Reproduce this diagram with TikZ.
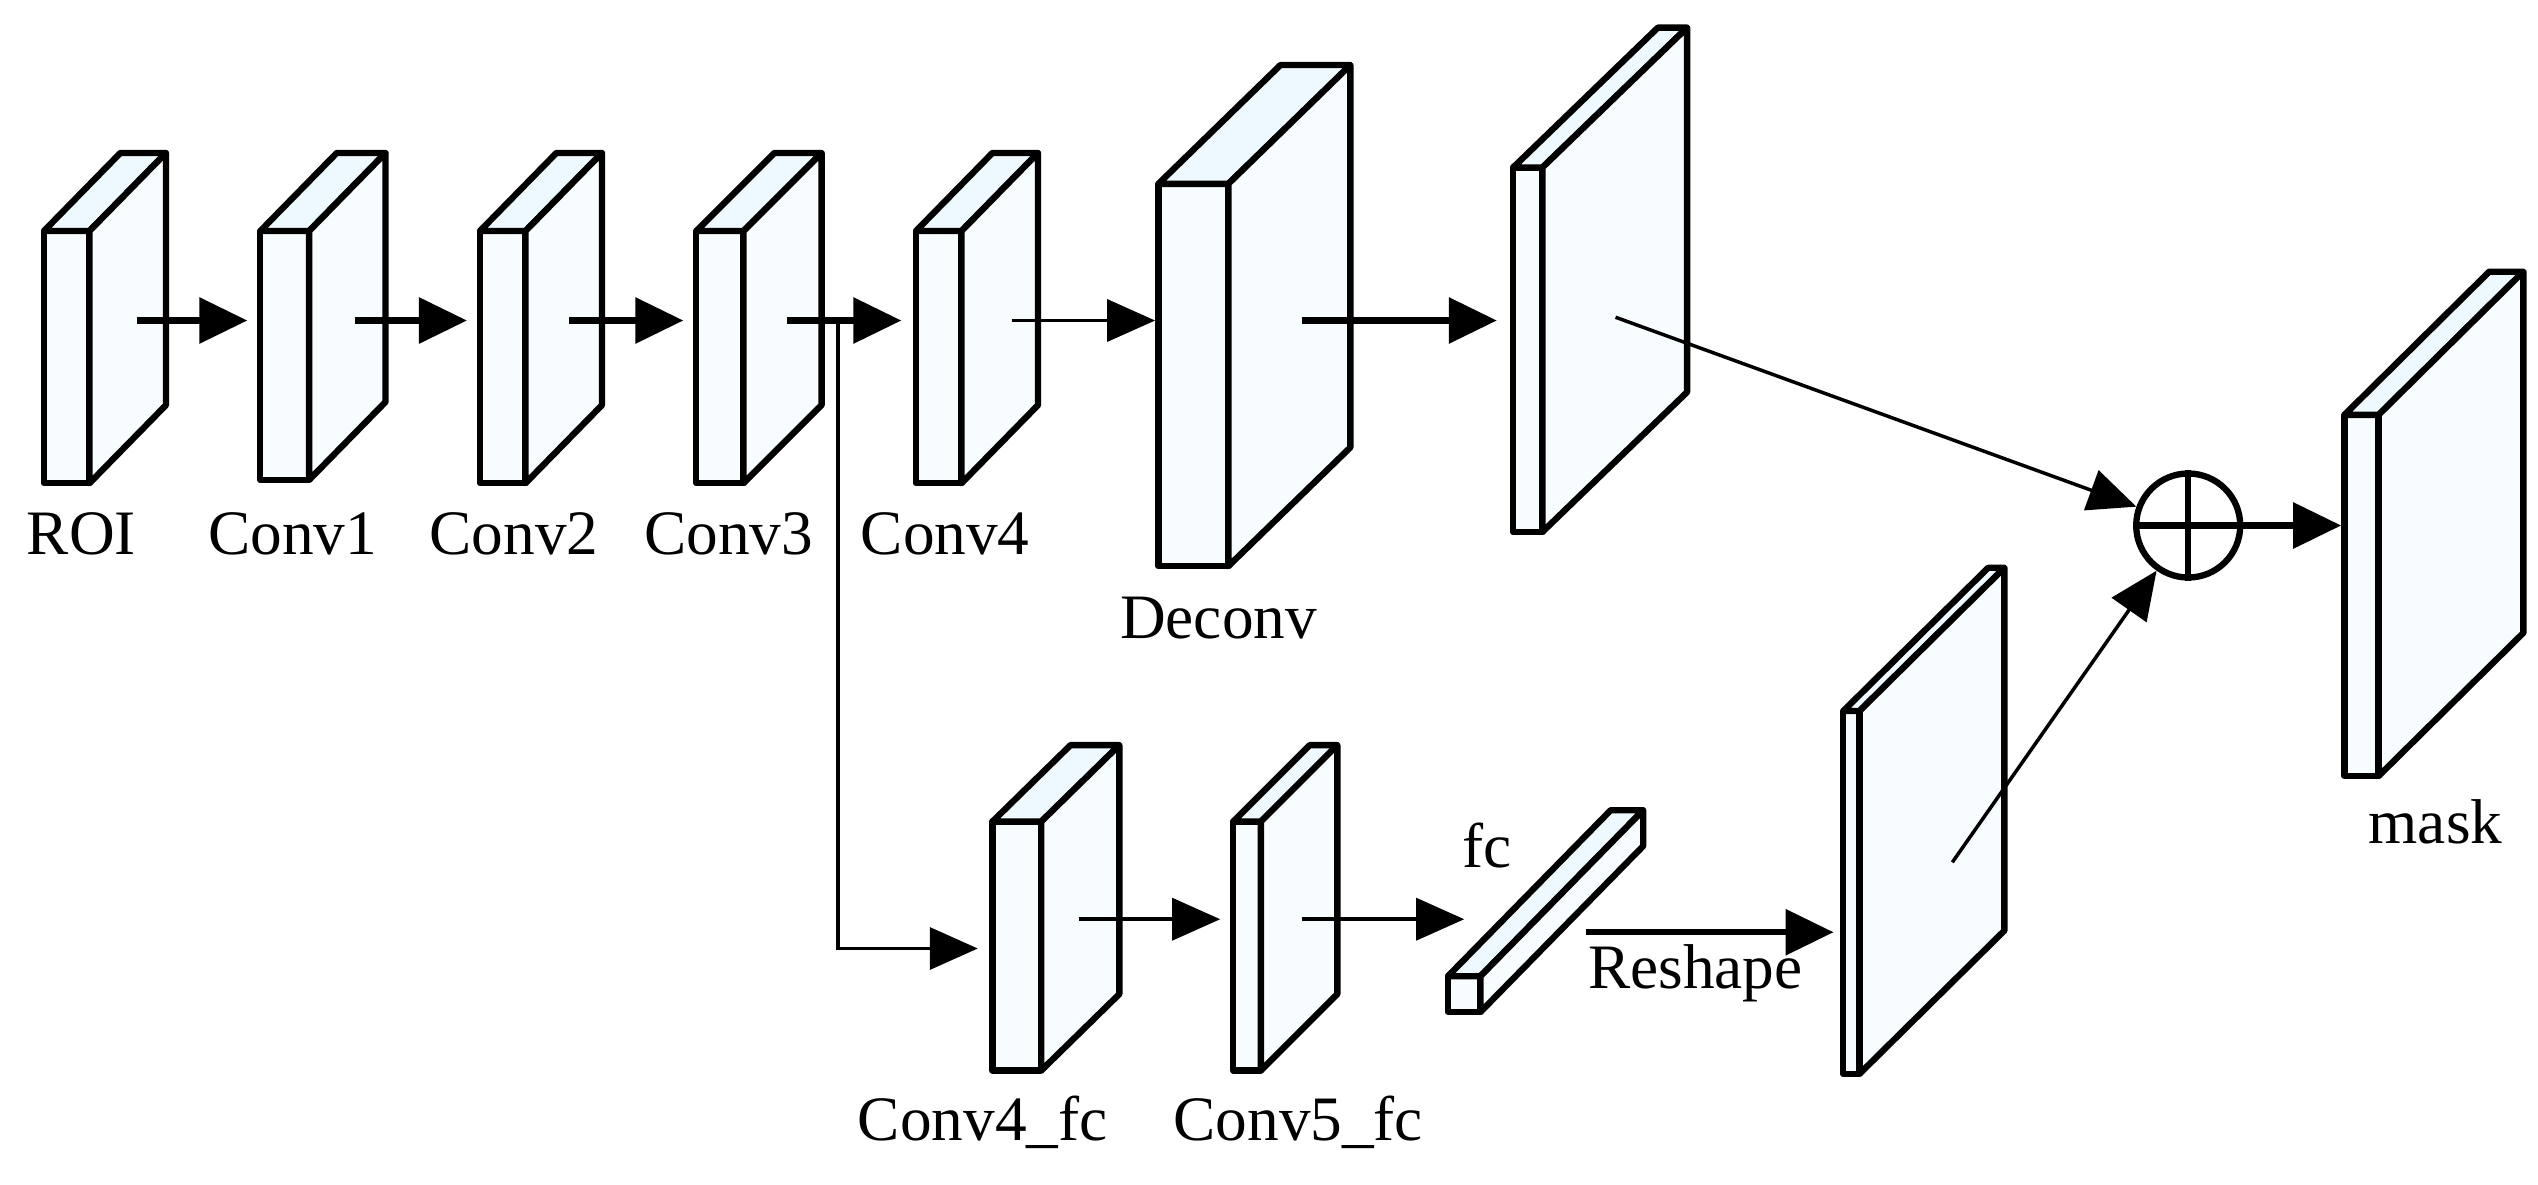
\documentclass[tikz,border=0pt]{standalone}
\usepackage{fontspec}
\setmainfont{Liberation Serif}
\usetikzlibrary{arrows.meta}
\begin{document}
\begin{tikzpicture}[x=0.01627cm,y=-0.01627cm,
  face/.style={draw=black,line width=1.8pt,line join=round,fill=cyan!3},
  topf/.style={draw=black,line width=1.8pt,line join=round,fill=cyan!7},
  big/.style={line width=1.8pt,-{Triangle[length=0.48cm,width=0.45cm]}},
  thin/.style={line width=1pt,-{Triangle[length=0.48cm,width=0.42cm]}},
  lbl/.style={font=\fontsize{18}{20}\selectfont,inner sep=0pt}]
\useasboundingbox (0,0) rectangle (1560,728);
\newcommand\layer[7]{%
  \filldraw[face] (#2,#3) rectangle (#4,#5);
  \filldraw[topf] (#2,#3) -- ++(#6,-#7) -- ++(#4-#2,0) -- (#4,#3) -- cycle;
  \filldraw[face] (#4,#3) -- ++(#6,-#7) -- ++(0,#5-#3) -- (#4,#5) -- cycle;
}
\layer{roi}{27}{142}{55}{297}{47}{48}
\layer{c1}{160}{142}{190}{295}{47}{48}
\layer{c2}{295}{142}{323}{297}{47}{48}
\layer{c3}{428}{142}{457}{297}{48}{48}
\layer{c4}{563}{142}{591}{297}{47}{48}
\layer{dc}{712}{113}{755}{348}{75}{73}
\layer{p1}{930}{103}{948}{327}{89}{86}
\layer{c4f}{610}{505}{640}{658}{48}{47}
\layer{c5f}{758}{505}{775}{658}{47}{47}
\layer{fc}{890}{600}{910}{622}{100}{102}
\layer{p2}{1133}{437}{1143}{660}{89}{88}
\layer{mask}{1441}{255}{1462}{477}{89}{88}
\node[draw,circle,line width=1.8pt,minimum size=1.04cm,inner sep=0pt,fill=white] (plus) at (1345,323) {};
\draw[line width=1.8pt] (plus.north) -- (plus.south) (plus.west) -- (plus.east);
\coordinate (a0) at (84,197); \coordinate (a1) at (152,197);
\coordinate (b0) at (218,197); \coordinate (b1) at (287,197);
\coordinate (d0) at (350,197); \coordinate (d1) at (420,197);
\coordinate (e0) at (484,197); \coordinate (e1) at (554,197);
\coordinate (f0) at (622,197); \coordinate (f1) at (710,197);
\coordinate (g0) at (800,197); \coordinate (g1) at (920,197);
\coordinate (h0) at (993,195);
\coordinate (br) at (515,197); \coordinate (bc) at (515,583); \coordinate (bt) at (601,583);
\coordinate (i0) at (663,565); \coordinate (i1) at (750,565);
\coordinate (j0) at (800,565); \coordinate (j1) at (900,565);
\coordinate (k0) at (975,573); \coordinate (k1) at (1127,573);
\coordinate (l0) at (1200,530);
\coordinate (m1) at (1439,323);
\draw[big] (a0) -- (a1);
\draw[big] (b0) -- (b1);
\draw[big] (d0) -- (d1);
\draw[big] (e0) -- (e1);
\draw[thin] (f0) -- (f1);
\draw[big] (g0) -- (g1);
\draw[thin] (h0) -- (plus);
\draw[thin] (br) -- (bc) -- (bt);
\draw[thin] (i0) -- (i1);
\draw[thin] (j0) -- (j1);
\draw[big] (k0) -- (k1);
\draw[thin] (l0) -- (plus);
\draw[big] (plus) -- (m1);
\node[lbl] (t1) at (50,328) {ROI};
\node[lbl] (t2) at (180,328) {Conv1};
\node[lbl] (t3) at (316,328) {Conv2};
\node[lbl] (t4) at (448,328) {Conv3};
\node[lbl] (t5) at (581,328) {Conv4};
\node[lbl] (t6) at (749,380) {Deconv};
\node[lbl] (t7) at (604,690) {Conv4\_fc};
\node[lbl] (t8) at (798,690) {Conv5\_fc};
\node[lbl] (t9) at (914,520) {fc};
\node[lbl] (t10) at (1042,598) {Reshape};
\node[lbl] (t11) at (1497,505) {mask};
\end{tikzpicture}
\end{document}
